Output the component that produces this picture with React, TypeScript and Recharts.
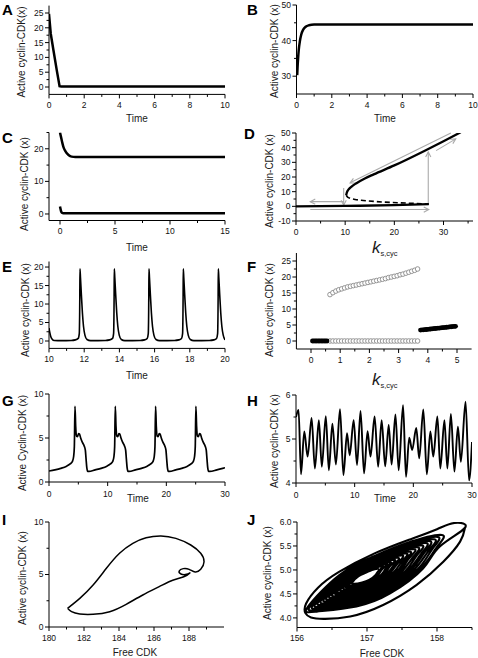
import React from "react"
import { ComposedChart, Line, Scatter, XAxis, YAxis, ReferenceLine } from "recharts"

const FONT = "'Liberation Sans', Arial, Helvetica, sans-serif"

// ---------- A: decay to the low state
const aTime = [0, 0.04, 0.1, 0.25, 0.44, 0.6, 0.7, 10]
const aActive = [24.7, 22, 18, 12.5, 5.7, 0.3, 0.2, 0.2]

// ---------- B: rise to the high state
const bTime = [0.04, 0.06, 0.09, 0.13, 0.19, 0.27, 0.38, 0.52, 0.7, 1, 10]
const bActive = [30.3, 32.5, 35, 37.5, 39.8, 41.7, 43.1, 43.9, 44.3, 44.5, 44.5]

// ---------- C: bistable, two starts
const cTime = [0, 0.1, 0.2, 0.3, 0.45, 0.6, 0.8, 1.05, 1.4, 15]
const cHigh = [25, 23.5, 22, 20.7, 19.5, 18.7, 18, 17.6, 17.5, 17.5]
const cLowTime = [0, 0.05, 0.1, 0.18, 0.3, 15]
const cLow = [2.3, 1.5, 0.8, 0.35, 0.2, 0.2]

// ---------- D: bifurcation diagram over k_s,cyc
const dLowK = [0, 10, 20, 27]
const dLowX = [0, 0.3, 0.8, 1.5]
const dHighK = [10.2, 10.35, 10.7, 11.3, 12.3, 14, 15.8, 20, 26, 30, 33.5]
const dHighX = [7.5, 9.5, 11.5, 13.5, 15.8, 19, 21.8, 27.9, 37.6, 44.4, 50.5]
const dUnstableK = [10.2, 10.5, 11, 12, 13.7, 17.8, 22.6, 27]
const dUnstableX = [7.5, 6.3, 5.5, 4.7, 4.0, 2.9, 2.2, 1.5]
// hysteresis arrows: [k1, x1, k2, x2], head at the second point
const dArrows = [
  [9.7, 3.2, 2.9, 3.2],
  [2.9, -2.2, 27, -2.2],
  [26.9, 2, 26.9, 37],
  [9.7, 12.5, 9.7, 0.8],
  [31.5, 50, 11, 16],
  [28.5, 38, 32.5, 46],
]

// ---------- E: oscillation
const eTime = [
  10, 10.05, 10.1, 10.18, 10.3, 10.7,
  11.26, 11.5, 11.66, 11.72, 11.75, 11.76, 11.79, 11.84, 11.9, 11.96, 12.04, 12.16, 12.36,
  13.2, 13.45, 13.61, 13.67, 13.7, 13.71, 13.74, 13.79, 13.85, 13.91, 13.99, 14.11, 14.31,
  15.18, 15.43, 15.58, 15.64, 15.67, 15.68, 15.71, 15.76, 15.82, 15.88, 15.96, 16.08, 16.28,
  17.13, 17.38, 17.53, 17.59, 17.62, 17.63, 17.66, 17.71, 17.77, 17.83, 17.91, 18.03, 18.23,
  19.12, 19.37, 19.52, 19.58, 19.61, 19.62, 19.65, 19.7, 19.76, 19.82, 19.9, 20,
]
const eActive = [
  3.5, 2.2, 1.2, 0.5, 0.15, 0.1,
  0.15, 0.3, 0.7, 2, 12, 19.5, 17, 12.5, 7.5, 4, 1.6, 0.4, 0.1,
  0.15, 0.3, 0.7, 2, 12, 19.5, 17, 12.5, 7.5, 4, 1.6, 0.4, 0.1,
  0.15, 0.3, 0.7, 2, 12, 19.5, 17, 12.5, 7.5, 4, 1.6, 0.4, 0.1,
  0.15, 0.3, 0.7, 2, 12, 19.5, 17, 12.5, 7.5, 4, 1.6, 0.4, 0.1,
  0.15, 0.3, 0.7, 2, 12, 19.5, 17, 12.5, 7.5, 4, 1.6, 0.3,
]

// ---------- F: stable states / oscillation extremes
const fLowFilledK = [0.05, 0.1, 0.15, 0.2, 0.25, 0.3, 0.35, 0.4, 0.45, 0.5, 0.55]
const fLowFilledX = [0, 0, 0, 0, 0, 0, 0, 0, 0, 0, 0]
const fOpenK = [
  0.65, 0.75, 0.85, 0.95, 1.05, 1.15, 1.25, 1.35, 1.45, 1.55, 1.65, 1.75, 1.85, 1.95, 2.05, 2.15,
  2.25, 2.35, 2.45, 2.55, 2.65, 2.75, 2.85, 2.95, 3.05, 3.15, 3.25, 3.35, 3.45, 3.55, 3.65,
]
const fOpenMax = [
  14.5, 15.1, 15.6, 16.0, 16.3, 16.6, 16.9, 17.1, 17.3, 17.5, 17.7, 17.9, 18.1, 18.3, 18.5, 18.7,
  18.9, 19.1, 19.3, 19.5, 19.8, 20.0, 20.2, 20.4, 20.7, 20.9, 21.2, 21.5, 21.8, 22.1, 22.5,
]
const fOpenMin = [
  0, 0, 0, 0, 0, 0, 0, 0, 0, 0, 0, 0, 0, 0, 0, 0,
  0, 0, 0, 0, 0, 0, 0, 0, 0, 0, 0, 0, 0, 0, 0,
]
const fHighFilledK = [
  3.75, 3.8, 3.85, 3.9, 3.95, 4.0, 4.05, 4.1, 4.15, 4.2, 4.25, 4.3, 4.35,
  4.4, 4.45, 4.5, 4.55, 4.6, 4.65, 4.7, 4.75, 4.8, 4.85, 4.9, 4.95,
]
const fHighFilledX = [
  3.4, 3.45, 3.5, 3.55, 3.6, 3.65, 3.7, 3.75, 3.8, 3.85, 3.9, 3.95, 4.0,
  4.05, 4.1, 4.15, 4.2, 4.25, 4.3, 4.35, 4.4, 4.45, 4.5, 4.55, 4.6,
]

// ---------- G: complex oscillation
const gTime = [
  0, 1, 2, 3, 3.6, 4.0, 4.2, 4.32, 4.43, 4.55, 4.7, 4.85, 5.05, 5.2, 5.4, 5.7, 6.0, 6.2, 6.32, 6.45, 6.6, 6.8,
  7.87, 8.87, 9.87, 10.47, 10.87, 11.07, 11.19, 11.3, 11.42, 11.57, 11.72, 11.92, 12.07, 12.27, 12.57, 12.87, 13.07, 13.19, 13.32, 13.47, 13.67,
  14.74, 15.74, 16.74, 17.34, 17.74, 17.94, 18.06, 18.17, 18.29, 18.44, 18.59, 18.79, 18.94, 19.14, 19.44, 19.74, 19.94, 20.06, 20.19, 20.34, 20.54,
  21.61, 22.61, 23.61, 24.21, 24.61, 24.81, 24.93, 25.04, 25.16, 25.31, 25.46, 25.66, 25.81, 26.01, 26.31, 26.61, 26.81, 26.93, 27.06, 27.21, 27.41,
  28.61, 29.61, 30,
]
const gActive = [
  1.25, 1.38, 1.55, 1.8, 2.05, 2.35, 2.9, 4.0, 8.6, 6.3, 5.2, 5.15, 5.5, 5.45, 5.0, 4.5, 4.1, 3.6, 2.6, 1.6, 1.2, 1.2,
  1.38, 1.55, 1.8, 2.05, 2.35, 2.9, 4.0, 8.6, 6.3, 5.2, 5.15, 5.5, 5.45, 5.0, 4.5, 4.1, 3.6, 2.6, 1.6, 1.2, 1.2,
  1.38, 1.55, 1.8, 2.05, 2.35, 2.9, 4.0, 8.6, 6.3, 5.2, 5.15, 5.5, 5.45, 5.0, 4.5, 4.1, 3.6, 2.6, 1.6, 1.2, 1.2,
  1.38, 1.55, 1.8, 2.05, 2.35, 2.9, 4.0, 8.6, 6.3, 5.2, 5.15, 5.5, 5.45, 5.0, 4.5, 4.1, 3.6, 2.6, 1.6, 1.2, 1.2,
  1.38, 1.55, 1.62,
]

// ---------- H: irregular oscillation (extrema)
const hTime = [
  0, 0.44, 0.85, 1.41, 1.98, 2.66, 3.22, 3.9, 4.4, 5.08, 5.6, 6.2, 6.8, 7.5, 8.08, 8.7, 9.15, 9.83,
  10.4, 11.0, 11.6, 12.2, 12.7, 13.4, 14.0, 14.6, 15.2, 15.8, 16.3, 16.95, 17.5, 18.25, 18.75, 19.3,
  19.8, 20.5, 21.0, 21.7, 22.3, 22.9, 23.4, 24.1, 24.6, 25.3, 25.8, 26.4, 27.0, 27.6, 28.1, 28.9, 29.5, 30,
]
const hActive = [
  5.5, 5.66, 4.2, 5.17, 4.6, 5.48, 4.33, 5.43, 4.37, 5.52, 4.29, 5.35, 4.42, 5.68, 4.18, 5.13, 4.63, 5.43,
  4.41, 5.64, 4.22, 5.18, 4.6, 5.51, 4.37, 5.43, 4.38, 5.32, 4.42, 5.56, 4.29, 5.77, 4.14, 5.03,
  4.75, 5.25, 4.56, 5.67, 4.2, 5.17, 4.6, 5.51, 4.33, 5.43, 4.33, 5.57, 4.26, 5.28, 4.48, 5.85, 4.06, 4.93,
]

// ---------- I: limit cycle in the (free CDK, x) plane
const iFree = [
  181.06, 181.76, 182.52, 183.28, 184.03, 184.79, 185.55, 186.4, 187.25, 188.1, 188.67, 188.86, 188.67,
  188.35, 188.01, 187.67, 187.44, 187.54, 187.86, 188.05, 187.7, 187.07, 186.3, 185.36, 184.41, 183.47,
  182.52, 181.76, 181.29, 181.06,
]
const iActive = [
  1.78, 2.73, 4.0, 5.59, 7.02, 7.97, 8.5, 8.67, 8.44, 7.81, 7.02, 6.22, 5.49,
  5.24, 5.49, 5.56, 5.33, 5.05, 5.02, 5.15, 4.78, 4.45, 3.84, 3.05, 2.16, 1.46,
  1.21, 1.24, 1.46, 1.78,
]

// ---------- J: spiral in the (free CDK, x) plane, inner rings outward
const jFree = [
  157.17, 157.07, 156.98, 156.88, 156.79, 156.82, 156.93, 157.03, 157.12, 157.17,
  157.23, 157.11, 156.99, 156.87, 156.75, 156.78, 156.93, 157.05, 157.16, 157.22,
  157.29, 157.14, 156.99, 156.85, 156.71, 156.75, 156.92, 157.06, 157.21, 157.28,
  157.34, 157.17, 157.0, 156.83, 156.67, 156.72, 156.92, 157.08, 157.25, 157.33,
  157.4, 157.2, 157.01, 156.81, 156.63, 156.68, 156.91, 157.1, 157.29, 157.39,
  157.45, 157.23, 157.01, 156.8, 156.59, 156.65, 156.91, 157.12, 157.33, 157.44,
  157.51, 157.26, 157.02, 156.78, 156.56, 156.62, 156.9, 157.14, 157.38, 157.5,
  157.57, 157.29, 157.03, 156.76, 156.52, 156.58, 156.9, 157.16, 157.42, 157.55,
  157.62, 157.32, 157.03, 156.75, 156.48, 156.55, 156.89, 157.18, 157.46, 157.6,
  157.68, 157.35, 157.04, 156.73, 156.44, 156.51, 156.89, 157.2, 157.5, 157.66,
  157.73, 157.38, 157.05, 156.71, 156.4, 156.48, 156.88, 157.22, 157.55, 157.71,
  157.79, 157.42, 157.06, 156.7, 156.36, 156.45, 156.88, 157.24, 157.59, 157.77,
  157.85, 157.45, 157.06, 156.68, 156.32, 156.41, 156.87, 157.25, 157.63, 157.82,
  157.9, 157.48, 157.07, 156.66, 156.28, 156.38, 156.87, 157.27, 157.67, 157.88,
  157.96, 157.51, 157.08, 156.64, 156.24, 156.35, 156.86, 157.29, 157.72, 157.93,
  158.01, 157.54, 157.08, 156.63, 156.2, 156.31, 156.86, 157.31, 157.76, 157.99,
  158.07, 157.57, 157.09, 156.61, 156.16, 156.28, 156.85, 157.33, 157.8, 158.04,
  158.4, 158.25, 158.0, 157.6, 157.1, 156.6, 156.3, 156.13, 156.12, 156.2, 156.38, 156.76, 157.23,
  157.71, 158.09, 158.33, 158.4,
]
const jActive = [
  5.03, 5.0, 4.94, 4.87, 4.74, 4.71, 4.74, 4.79, 4.89, 4.99,
  5.08, 5.04, 4.97, 4.87, 4.71, 4.68, 4.71, 4.77, 4.9, 5.02,
  5.12, 5.07, 4.99, 4.87, 4.67, 4.64, 4.67, 4.76, 4.91, 5.05,
  5.16, 5.11, 5.01, 4.87, 4.64, 4.6, 4.64, 4.74, 4.92, 5.08,
  5.21, 5.14, 5.03, 4.88, 4.61, 4.57, 4.61, 4.72, 4.93, 5.11,
  5.25, 5.18, 5.05, 4.88, 4.58, 4.53, 4.58, 4.7, 4.94, 5.14,
  5.3, 5.21, 5.07, 4.88, 4.55, 4.5, 4.55, 4.69, 4.95, 5.18,
  5.34, 5.25, 5.09, 4.88, 4.52, 4.46, 4.52, 4.67, 4.95, 5.21,
  5.38, 5.28, 5.11, 4.88, 4.49, 4.42, 4.49, 4.65, 4.96, 5.24,
  5.43, 5.32, 5.13, 4.89, 4.46, 4.39, 4.46, 4.63, 4.97, 5.27,
  5.47, 5.35, 5.15, 4.89, 4.43, 4.35, 4.43, 4.62, 4.98, 5.3,
  5.51, 5.39, 5.18, 4.89, 4.4, 4.31, 4.4, 4.6, 4.99, 5.33,
  5.56, 5.42, 5.2, 4.89, 4.36, 4.28, 4.36, 4.58, 5.0, 5.36,
  5.6, 5.46, 5.22, 4.89, 4.33, 4.24, 4.33, 4.56, 5.0, 5.4,
  5.64, 5.49, 5.24, 4.9, 4.3, 4.2, 4.3, 4.55, 5.01, 5.43,
  5.69, 5.53, 5.26, 4.9, 4.27, 4.17, 4.27, 4.53, 5.02, 5.46,
  5.73, 5.56, 5.28, 4.9, 4.24, 4.13, 4.24, 4.51, 5.03, 5.49,
  5.88, 5.98, 5.85, 5.63, 5.34, 4.96, 4.63, 4.3, 4.1, 4.01, 3.98, 4.03, 4.27,
  4.69, 5.17, 5.59, 5.88,
]

// ---------- ticks
const time10Ticks = [0, 1, 2, 3, 4, 5, 6, 7, 8, 9, 10]
const time10Major = [0, 2, 4, 6, 8, 10]
const aYTicks = [0, 2.5, 5, 7.5, 10, 12.5, 15, 17.5, 20, 22.5, 25]
const aYMajor = [0, 5, 10, 15, 20, 25]
const bYTicks = [30, 35, 40, 45, 50]
const bYMajor = [30, 40, 50]
const cXTicks = [0, 2.5, 5, 7.5, 10, 12.5, 15]
const cXMajor = [0, 5, 10, 15]
const cYTicks = [0, 5, 10, 15, 20, 25]
const cYMajor = [0, 10, 20]
const dXTicks = [0, 5, 10, 15, 20, 25, 30, 35]
const dXMajor = [0, 10, 20, 30]
const dYTicks = [-10, -5, 0, 5, 10, 15, 20, 25, 30, 35, 40, 45, 50]
const dYMajor = [-10, 0, 10, 20, 30, 40, 50]
const eXTicks = [10, 11, 12, 13, 14, 15, 16, 17, 18, 19, 20]
const eXMajor = [10, 12, 14, 16, 18, 20]
const eYTicks = [0, 2.5, 5, 7.5, 10, 12.5, 15, 17.5, 20]
const eYMajor = [0, 5, 10, 15, 20]
const fXTicks = [0, 0.5, 1, 1.5, 2, 2.5, 3, 3.5, 4, 4.5, 5]
const fXMajor = [0, 1, 2, 3, 4, 5]
const fYTicks = [0, 2.5, 5, 7.5, 10, 12.5, 15, 17.5, 20, 22.5, 25]
const fYMajor = [0, 5, 10, 15, 20, 25]
const time30Ticks = [0, 5, 10, 15, 20, 25, 30]
const time30Major = [0, 10, 20, 30]
const gYTicks = [0, 2.5, 5, 7.5, 10]
const gYMajor = [0, 5, 10]
const hYTicks = [4, 4.5, 5, 5.5, 6]
const hYMajor = [4, 5, 6]
const iXTicks = [180, 181, 182, 183, 184, 185, 186, 187, 188, 189]
const iXMajor = [180, 182, 184, 186, 188]
const jXTicks = [156, 156.5, 157, 157.5, 158, 158.5]
const jXMajor = [156, 157, 158]
const jYTicks = [4, 4.25, 4.5, 4.75, 5, 5.25, 5.5, 5.75, 6]
const jYMajor = [4, 4.5, 5, 5.5, 6]

const zip = (xs: number[], ys: number[]) => xs.map((x, i) => ({ x, y: ys[i] }))

const isMajorTick = (major: number[], v: number) => major.some((m) => Math.abs(m - v) < 1e-9)

function XTick(props: any) {
  const { x, y, payload, major, digits, offset } = props
  const v = payload.value as number
  const big = isMajorTick(major, v)
  return (
    <g>
      <line x1={x} x2={x} y1={y} y2={y + (big ? 4 : 2.5)} stroke="#000" strokeWidth={1} />
      {big && (
        <text x={x} y={y + offset} textAnchor="middle" fontSize={8.5} fontFamily={FONT} fill="#111" stroke="none">
          {v.toFixed(digits)}
        </text>
      )}
    </g>
  )
}

function YTick(props: any) {
  const { x, y, payload, major, digits } = props
  const v = payload.value as number
  const big = isMajorTick(major, v)
  return (
    <g>
      <line x1={x - (big ? 4 : 2.5)} x2={x} y1={y} y2={y} stroke="#000" strokeWidth={1} />
      {big && (
        <text x={x - 5.5} y={y} dy="0.35em" textAnchor="end" fontSize={8.5} fontFamily={FONT} fill="#111" stroke="none">
          {v.toFixed(digits)}
        </text>
      )}
    </g>
  )
}

function arrowShape(props: any) {
  const { x1, y1, x2, y2 } = props
  const a = Math.atan2(y2 - y1, x2 - x1)
  const len = 5
  const half = 2.6
  const bx = x2 - len * Math.cos(a)
  const by = y2 - len * Math.sin(a)
  const px = -Math.sin(a) * half
  const py = Math.cos(a) * half
  return (
    <g>
      <line x1={x1} y1={y1} x2={x2} y2={y2} stroke="#aaa" strokeWidth={1.1} />
      <polyline
        points={`${bx + px},${by + py} ${x2},${y2} ${bx - px},${by - py}`}
        fill="none"
        stroke="#aaa"
        strokeWidth={1.1}
      />
    </g>
  )
}

type Box = { left: number; top: number; width: number; height: number }
type Area = { x0: number; x1: number; y0: number; y1: number }

interface PanelProps {
  box: Box
  area: Area
  xDomain: [number, number]
  yDomain: [number, number]
  xTicks: number[]
  xMajor: number[]
  yTicks: number[]
  yMajor: number[]
  xDigits?: number
  yDigits?: number
  tickOffset?: number
  letter: string
  letterAt: [number, number]
  yTitle: string
  yTitleAt: [number, number]
  xTitle: React.ReactNode
  children: React.ReactNode
}

function Panel(p: PanelProps) {
  const { box, area } = p
  // titles are placed in page coordinates
  const titles = () => (
    <g transform={`translate(${-box.left},${-box.top})`} fontFamily={FONT} fill="#1a1a1a" stroke="none">
      <text x={p.letterAt[0]} y={p.letterAt[1]} fontSize={15} fontWeight="bold" fill="#000">
        {p.letter}
      </text>
      <text
        x={p.yTitleAt[0]}
        y={p.yTitleAt[1]}
        transform={`rotate(-90 ${p.yTitleAt[0]} ${p.yTitleAt[1]})`}
        textAnchor="middle"
        fontSize={10}
      >
        {p.yTitle}
      </text>
      {p.xTitle}
    </g>
  )
  return (
    <div style={{ position: "absolute", left: box.left, top: box.top }}>
      <ComposedChart
        width={box.width}
        height={box.height}
        margin={{ top: area.y0 - box.top, right: box.left + box.width - area.x1, bottom: 0, left: 0 }}
        style={{ overflow: "visible" }}
      >
        <XAxis
          type="number"
          dataKey="x"
          domain={p.xDomain}
          allowDataOverflow
          ticks={p.xTicks}
          interval={0}
          height={box.top + box.height - area.y1}
          tickSize={0}
          tickMargin={0}
          tickLine={false}
          axisLine={{ stroke: "#000", strokeWidth: 1 }}
          tick={(t: any) => <XTick {...t} major={p.xMajor} digits={p.xDigits ?? 0} offset={p.tickOffset ?? 13.5} />}
        />
        <YAxis
          type="number"
          dataKey="y"
          domain={p.yDomain}
          allowDataOverflow
          ticks={p.yTicks}
          interval={0}
          width={area.x0 - box.left}
          tickSize={0}
          tickMargin={0}
          tickLine={false}
          axisLine={{ stroke: "#000", strokeWidth: 1 }}
          tick={(t: any) => <YTick {...t} major={p.yMajor} digits={p.yDigits ?? 0} />}
          label={titles}
        />
        {p.children}
      </ComposedChart>
    </div>
  )
}

const timeTitle = (x: number, y: number) => (
  <text x={x} y={y} textAnchor="middle" fontSize={10}>
    Time
  </text>
)

const freeTitle = (x: number, y: number) => (
  <text x={x} y={y} textAnchor="middle" fontSize={10}>
    Free CDK
  </text>
)

const kTitle = (x: number, y: number) => (
  <text x={x} y={y} fontSize={17}>
    <tspan fontStyle="italic">k</tspan>
    <tspan fontSize={7.5} dy={3}>
      s,cyc
    </tspan>
  </text>
)

const curve = (data: { x: number; y: number }[], width: number, type: any = "monotone", dash?: string) => (
  <Line
    data={data}
    dataKey="y"
    type={type}
    stroke="#000"
    strokeWidth={width}
    strokeDasharray={dash}
    dot={false}
    activeDot={false}
    isAnimationActive={false}
    legendType="none"
  />
)

const openCircle = (s: any) => <circle cx={s.cx} cy={s.cy} r={2.3} fill="#fff" stroke="#8a8a8a" strokeWidth={0.9} />
const filledCircle = (s: any) => <circle cx={s.cx} cy={s.cy} r={2.4} fill="#000" />

export default function App() {
  return (
    <div
      style={{
        position: "absolute",
        left: 0,
        top: 0,
        width: 478,
        height: 658,
        background: "#fff",
        fontFamily: FONT,
        overflow: "hidden",
      }}
    >
      <Panel
        box={{ left: 0, top: 0, width: 238, height: 127 }}
        area={{ x0: 49, x1: 225, y0: 5.6, y1: 94.4 }}
        xDomain={[0, 10]}
        yDomain={[-2.5, 27.5]}
        xTicks={time10Ticks}
        xMajor={time10Major}
        yTicks={aYTicks}
        yMajor={aYMajor}
        letter="A"
        letterAt={[2, 15]}
        yTitle="Active cyclin-CDK(x)"
        yTitleAt={[25, 52]}
        xTitle={timeTitle(137, 122)}
      >
        {curve(zip(aTime, aActive), 2.5, "linear")}
      </Panel>

      <Panel
        box={{ left: 240, top: 0, width: 238, height: 127 }}
        area={{ x0: 296.5, x1: 473, y0: 5, y1: 94 }}
        xDomain={[0, 10]}
        yDomain={[25, 50]}
        xTicks={time10Ticks}
        xMajor={time10Major}
        yTicks={bYTicks}
        yMajor={bYMajor}
        letter="B"
        letterAt={[247, 15]}
        yTitle="Active cyclin-CDK (x)"
        yTitleAt={[278, 51]}
        xTitle={timeTitle(385, 122)}
      >
        {curve(zip(bTime, bActive), 2.5)}
      </Panel>

      <Panel
        box={{ left: 0, top: 127, width: 238, height: 133 }}
        area={{ x0: 49, x1: 225, y0: 132.5, y1: 220.5 }}
        xDomain={[-1, 15]}
        yDomain={[-2, 25]}
        xTicks={cXTicks}
        xMajor={cXMajor}
        yTicks={cYTicks}
        yMajor={cYMajor}
        letter="C"
        letterAt={[2, 143]}
        yTitle="Active cyclin-CDK (x)"
        yTitleAt={[28, 184]}
        xTitle={timeTitle(137, 251)}
      >
        {curve(zip(cTime, cHigh), 2.5)}
        {curve(zip(cLowTime, cLow), 2.5)}
      </Panel>

      <Panel
        box={{ left: 240, top: 122, width: 238, height: 138 }}
        area={{ x0: 296, x1: 473, y0: 133, y1: 221 }}
        xDomain={[0, 36]}
        yDomain={[-10, 50]}
        xTicks={dXTicks}
        xMajor={dXMajor}
        yTicks={dYTicks}
        yMajor={dYMajor}
        letter="D"
        letterAt={[244, 139]}
        yTitle="Active cyclin-CDK (x)"
        yTitleAt={[273, 181]}
        xTitle={kTitle(372, 253)}
      >
        {dArrows.map((a, i) => (
          <ReferenceLine
            key={i}
            segment={[
              { x: a[0], y: a[1] },
              { x: a[2], y: a[3] },
            ]}
            ifOverflow="visible"
            shape={arrowShape}
          />
        ))}
        {curve(zip(dLowK, dLowX), 2.3)}
        {curve(zip(dHighK, dHighX), 2.3)}
        {curve(zip(dUnstableK, dUnstableX), 1.6, "monotone", "5 3")}
      </Panel>

      <Panel
        box={{ left: 0, top: 252, width: 238, height: 136 }}
        area={{ x0: 49, x1: 225, y0: 261.5, y1: 348.4 }}
        xDomain={[10, 20]}
        yDomain={[-2, 21.5]}
        xTicks={eXTicks}
        xMajor={eXMajor}
        yTicks={eYTicks}
        yMajor={eYMajor}
        letter="E"
        letterAt={[2, 272]}
        yTitle="Active cyclin-CDK (x)"
        yTitleAt={[29, 310]}
        xTitle={timeTitle(137, 379)}
      >
        {curve(zip(eTime, eActive), 1.6)}
      </Panel>

      <Panel
        box={{ left: 240, top: 250, width: 238, height: 140 }}
        area={{ x0: 296.4, x1: 471.6, y0: 253, y1: 349 }}
        xDomain={[-0.5, 5.5]}
        yDomain={[-2.5, 27.5]}
        xTicks={fXTicks}
        xMajor={fXMajor}
        yTicks={fYTicks}
        yMajor={fYMajor}
        letter="F"
        letterAt={[247, 272]}
        yTitle="Active cyclin-CDK (x)"
        yTitleAt={[273, 310]}
        xTitle={kTitle(372, 385)}
      >
        <Scatter data={zip(fOpenK, fOpenMin)} dataKey="y" shape={openCircle} isAnimationActive={false} legendType="none" />
        <Scatter data={zip(fOpenK, fOpenMax)} dataKey="y" shape={openCircle} isAnimationActive={false} legendType="none" />
        <Scatter data={zip(fLowFilledK, fLowFilledX)} dataKey="y" shape={filledCircle} isAnimationActive={false} legendType="none" />
        <Scatter data={zip(fHighFilledK, fHighFilledX)} dataKey="y" shape={filledCircle} isAnimationActive={false} legendType="none" />
      </Panel>

      <Panel
        box={{ left: 0, top: 388, width: 238, height: 118 }}
        area={{ x0: 49, x1: 225, y0: 394, y1: 482 }}
        xDomain={[0, 30]}
        yDomain={[0, 10]}
        xTicks={time30Ticks}
        xMajor={time30Major}
        yTicks={gYTicks}
        yMajor={gYMajor}
        tickOffset={14.5}
        letter="G"
        letterAt={[2, 406]}
        yTitle="Active Cyclin-CDK (x)"
        yTitleAt={[26, 443]}
        xTitle={timeTitle(138, 502)}
      >
        {curve(zip(gTime, gActive), 1.7)}
      </Panel>

      <Panel
        box={{ left: 240, top: 388, width: 238, height: 118 }}
        area={{ x0: 296, x1: 472, y0: 395, y1: 483 }}
        xDomain={[0, 30]}
        yDomain={[4, 6]}
        xTicks={time30Ticks}
        xMajor={time30Major}
        yTicks={hYTicks}
        yMajor={hYMajor}
        tickOffset={14.5}
        letter="H"
        letterAt={[247, 406]}
        yTitle="Active cyclin-CDK (x)"
        yTitleAt={[278, 441]}
        xTitle={timeTitle(385, 502)}
      >
        {curve(zip(hTime, hActive), 1.9)}
      </Panel>

      <Panel
        box={{ left: 0, top: 506, width: 238, height: 152 }}
        area={{ x0: 49, x1: 224, y0: 522, y1: 627 }}
        xDomain={[180, 190]}
        yDomain={[0, 10]}
        xTicks={iXTicks}
        xMajor={iXMajor}
        yTicks={gYTicks}
        yMajor={gYMajor}
        letter="I"
        letterAt={[2, 525]}
        yTitle="Active cyclin-CDK (x)"
        yTitleAt={[26, 578]}
        xTitle={freeTitle(135, 656)}
      >
        {curve(zip(iFree, iActive), 1.5, "natural")}
      </Panel>

      <Panel
        box={{ left: 240, top: 506, width: 238, height: 152 }}
        area={{ x0: 297, x1: 472, y0: 522, y1: 627.5 }}
        xDomain={[156, 158.5]}
        yDomain={[3.8, 6]}
        xTicks={jXTicks}
        xMajor={jXMajor}
        yTicks={jYTicks}
        yMajor={jYMajor}
        yDigits={1}
        letter="J"
        letterAt={[247, 525]}
        yTitle="Active cyclin-CDK (x)"
        yTitleAt={[271, 573]}
        xTitle={freeTitle(382, 657)}
      >
        {curve(zip(jFree, jActive), 2.1, "natural")}
      </Panel>
    </div>
  )
}
